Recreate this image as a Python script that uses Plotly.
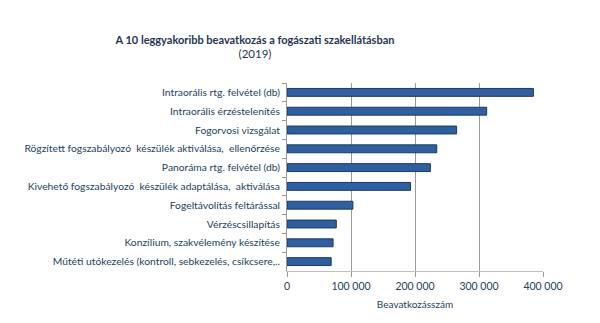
import plotly.graph_objects as go

categories = [
    "Intraorális rtg. felvétel (db)",
    "Intraorális érzéstelenítés",
    "Fogorvosi vizsgálat",
    "Rögzített fogszabályozó  készülék aktiválása,  ellenőrzése",
    "Panoráma rtg. felvétel (db)",
    "Kivehető fogszabályozó  készülék adaptálása,  aktiválása",
    "Fogeltávolítás feltárással",
    "Vérzéscsillapítás",
    "Konzílium, szakvélemény készítése",
    "Műtéti utókezelés (kontroll, sebkezelés, csíkcsere,..",
]
values = [385000, 312000, 265000, 234000, 224000, 193000, 103000, 77000, 72000, 69000]
tick_vals = [0, 100000, 200000, 300000, 400000]
tick_text = ["0", "100 000", "200 000", "300 000", "400 000"]

text_color = "#243F60"
fig = go.Figure(go.Bar(
    x=values, y=categories, orientation="h",
    marker=dict(color="#2F5F9E", line=dict(color="#1B3A66", width=1)),
    width=0.42,
))
fig.update_layout(
    width=600, height=323,
    margin=dict(l=287, r=57, t=83, b=52),
    paper_bgcolor="white", plot_bgcolor="white",
    font=dict(family="Lato, Liberation Sans, sans-serif", size=10.3, color=text_color),
    title=dict(
        text="<b>A 10 leggyakoribb beavatkozás a fogászati szakellátásban</b><br><span style='font-size:11.5px'>(2019)</span>",
        x=255/600, xanchor="center", y=1 - 44/323, yanchor="middle",
        font=dict(size=11, color="#1F3557", family="Lato, Liberation Sans, sans-serif"),
    ),
    showlegend=False,
)
fig.update_xaxes(
    range=[0, 400000], tickvals=tick_vals, ticktext=tick_text,
    showgrid=True, gridcolor="#9A9A9A", gridwidth=1,
    showline=True, linecolor="#BFBFBF", zeroline=False,
    ticks="outside", ticklen=5, tickcolor="#9A9A9A",
    title=dict(text="Beavatkozásszám", standoff=10, font=dict(size=10, color=text_color)),
    tickfont=dict(size=10.5, color=text_color),
)
fig.update_yaxes(
    autorange="reversed", showline=True, linecolor="#9A9A9A",
    ticks="outside", tickson="boundaries", ticklen=4, tickcolor="#9A9A9A",
    ticklabelstandoff=4,
    tickfont=dict(size=10.3, color=text_color),
)
fig.write_html("out.html")
